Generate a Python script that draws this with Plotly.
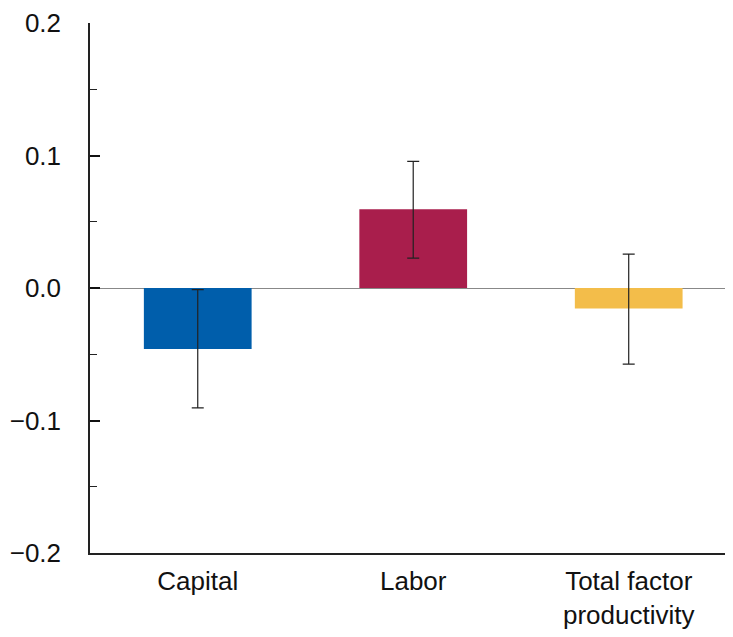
import plotly.graph_objects as go

categories = ["Capital", "Labor", "Total factor<br>productivity"]
values = [-0.046, 0.0595, -0.0155]
err_low = [-0.0905, 0.0225, -0.0575]
err_high = [-0.0012, 0.0955, 0.0255]
colors = ["#005EAB", "#A91E4C", "#F3BD4A"]
tick_vals = [-0.2, -0.1, 0.0, 0.1, 0.2]
tick_text = ["\u22120.2", "\u22120.1", "0.0", "0.1", "0.2"]

FONT = "Liberation Sans, Arial, sans-serif"

fig = go.Figure()
fig.add_trace(go.Bar(
    x=categories, y=values, marker=dict(color=colors, line=dict(width=0)),
    width=0.5,
    error_y=dict(type="data", symmetric=False,
                 array=[h - v for h, v in zip(err_high, values)],
                 arrayminus=[v - l for l, v in zip(err_low, values)],
                 color="#222222", thickness=1.2, width=6),
))
fig.update_layout(
    width=725, height=629,
    margin=dict(l=82, r=0, t=15, b=84),
    plot_bgcolor="white", paper_bgcolor="white",
    font=dict(family=FONT, size=26, color="#111111"),
    showlegend=False, bargap=0.5,
)
fig.update_xaxes(range=[-0.5, 2.484], showline=True, linecolor="#222222", linewidth=1.5,
                 ticks="", showgrid=False, tickfont=dict(size=26), ticklabelstandoff=4,
                 automargin=False)
fig.update_yaxes(range=[-0.2, 0.2], tickvals=tick_vals, ticktext=tick_text,
                 showline=True, linecolor="#222222", linewidth=1.5,
                 ticks="inside", ticklen=10, tickwidth=1.8, tickcolor="#111111",
                 minor=dict(dtick=0.05, ticks="inside", ticklen=7, tickwidth=1.3, tickcolor="#222222", showgrid=False),
                 showgrid=False, zeroline=True, zerolinecolor="#888888", zerolinewidth=1.2,
                 tickfont=dict(size=26), ticklabelstandoff=22, automargin=False)
fig.write_html("out.html")
